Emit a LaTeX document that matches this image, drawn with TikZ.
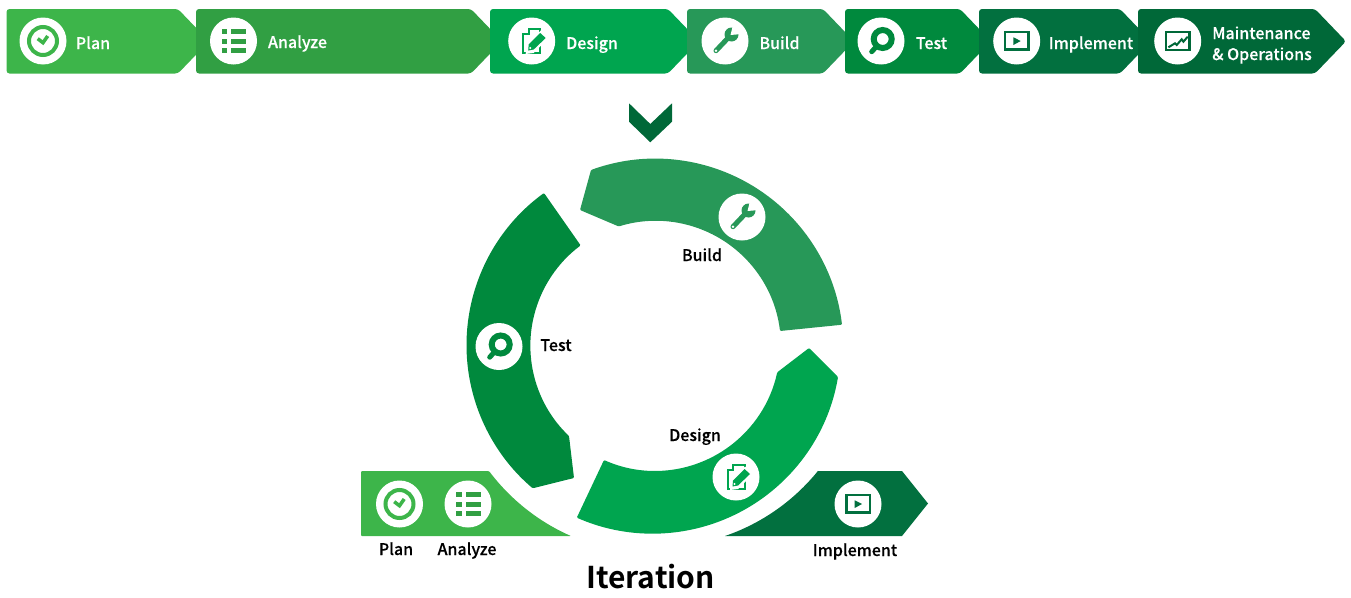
\documentclass[tikz,border=0pt]{standalone}
\usepackage{fontspec}
\setmainfont{Noto Sans CJK KR Medium}[FakeBold=0.25]
\newfontfamily\titlefont{Noto Sans CJK KR Bold}
\definecolor{planc}{HTML}{3DB54A}
\definecolor{analyzec}{HTML}{319F43}
\definecolor{designc}{HTML}{00A54F}
\definecolor{buildc}{HTML}{279858}
\definecolor{testc}{HTML}{00893D}
\definecolor{implc}{HTML}{02703F}
\definecolor{maintc}{HTML}{006838}
\tikzset{
  iconbg/.style={circle, fill=white, inner sep=0pt, minimum size=47pt},
  headlabel/.style={text=white, anchor=base, font=\fontsize{16}{21}\selectfont, align=left},
  ringlabel/.style={text=black, anchor=base, font=\fontsize{16}{21}\selectfont},
  pics/planicon/.style={code={
    \draw[#1, line width=4pt] (0,0) circle[radius=14];
    \draw[#1, line width=3.5pt] (-5.3,-2.3)--(0,1.7)--(4.7,-5);
  }},
  pics/analyzeicon/.style={code={
    \foreach \rowy in {-12,-2.5,7}{
      \fill[#1] (-12,\rowy) rectangle (-6.5,\rowy+5);
      \fill[#1] (-2.5,\rowy) rectangle (12.5,\rowy+5);
    }
  }},
  pics/designicon/.style={code={
    \draw[#1, line width=2pt] (-8.3,-7)--(-2.7,-7)--(-2.7,-12.3)--(8.7,-12.3)--(8.7,11.7)--(-8.3,11.7)--cycle;
    \fill[white] (9,-10.5)--(17,-3)--(2,12)--(-6,13)--(-5.5,5)--cycle;
    \fill[#1] (8.5,-8)--(14,-3)--(2,8.5)--(-3.5,9.5)--(-3,3.5)--cycle;
    \fill[white] (-1.5,7)circle[radius=1.1];
  }},
  pics/buildicon/.style={code={
    \draw[#1, line width=5pt, line cap=round] (-9,9.7)--(4,-4);
    \fill[#1] (6.5,-6.5) circle[radius=7];
    \fill[white] (5.5,-6)--(8,-16)--(17,-7)--cycle;
    \fill[white] (-9,9.7) circle[radius=1.4];
  }},
  pics/testicon/.style={code={
    \draw[#1, line width=6pt] (1.7,-2) circle[radius=9];
    \draw[#1, line width=5pt, line cap=round] (-9.3,10.7)--(-5,6);
  }},
  pics/implicon/.style={code={
    \draw[#1, line width=2.5pt] (-11.5,-8.8) rectangle (12,8.5);
    \fill[#1] (-3.3,-3.7)--(4,0)--(-3.3,4)--cycle;
  }},
  pics/mainticon/.style={code={
    \draw[#1, line width=2.5pt] (-11.5,-8.8) rectangle (12,9);
    \draw[#1, line width=2pt] (-9.3,6.3)--(-2.7,2.3)--(-1,4)--(4,-1.7)--(5.7,0.7)--(10,-4.3);
  }}
}
% top bar: left, shoulder, colour
\newcommand{\stagebar}[3]{
  \fill[#3, rounded corners=3pt] (#2,9)--(#2+31,41.3)--(#2,73.5)--(#1,73.5)--(#1,9)--cycle;
}
\begin{document}
\begin{tikzpicture}[x=1pt, y=-1pt]
  \useasboundingbox (0,0) rectangle (1351,597);
  \stagebar{6.5}{178}{planc}
  \stagebar{196}{471}{analyzec}
  \stagebar{490}{668}{designc}
  \stagebar{687}{823}{buildc}
  \stagebar{845}{960}{testc}
  \stagebar{979}{1120}{implc}
  \stagebar{1138}{1315}{maintc}

  \node[iconbg] (plantop) at (43,41) {};
  \pic at (plantop) {planicon=planc};
  \node[headlabel] (planhead) at (93,49) {Plan};
  \node[iconbg] (analyzetop) at (233.5,41) {};
  \pic at (analyzetop) {analyzeicon=analyzec};
  \node[headlabel] (analyzehead) at (297.5,48) {Analyze};
  \node[iconbg] (designtop) at (531.7,41) {};
  \pic at (designtop) {designicon=designc};
  \node[headlabel] (designhead) at (592,49) {Design};
  \node[iconbg] (buildtop) at (725,41) {};
  \pic at (buildtop) {buildicon=buildc};
  \node[headlabel] (buildhead) at (779.5,49) {Build};
  \node[iconbg] (testtop) at (881,41) {};
  \pic at (testtop) {testicon=testc};
  \node[headlabel] (testhead) at (931.5,49) {Test};
  \node[iconbg] (impltop) at (1016.7,41) {};
  \pic at (impltop) {implicon=implc};
  \node[headlabel] (implhead) at (1091,49) {Implement};
  \node[iconbg] (mainttop) at (1177.7,41) {};
  \pic at (mainttop) {mainticon=maintc};
  \node[headlabel, anchor=center] (mainthead) at (1262,45) {Maintenance\\\& Operations};

  % chevron
  \fill[maintc] (629,103.3)--(650.3,124)--(672,103.3)--(672,121.7)--(650.3,142.3)--(629,121.7)--cycle;

  % ring
  \fill[buildc, rounded corners=1pt] (591,170) arc[start angle=250, end angle=353.3, radius=188]
    --(780,331) arc[start angle=353.2, end angle=252.7, radius=125]--(580,210)--cycle;
  \fill[testc, rounded corners=1pt] (544,193) arc[start angle=234, end angle=130.4, radius=188]
    --(574,478)--(569,436) arc[start angle=133.7, end angle=233.3, radius=125]--cycle;
  \fill[designc, rounded corners=1pt] (838,377) arc[start angle=9.6, end angle=113.8, radius=188]
    --(604,460) arc[start angle=114.1, end angle=12.2, radius=125]--(809,348)--cycle;

  \node[iconbg] (buildring) at (742,217) {};
  \pic at (buildring) {buildicon=buildc};
  \node[ringlabel] (buildname) at (702,261) {Build};
  \node[iconbg] (testring) at (499,346.5) {};
  \pic at (testring) {testicon=testc};
  \node[ringlabel] (testname) at (556,351) {Test};
  \node[iconbg] (designring) at (736,477) {};
  \pic at (designring) {designicon=designc};
  \node[ringlabel] (designname) at (695,441) {Design};

  % bottom shapes
  \fill[planc, rounded corners=1pt] (361,471)--(489,471) arc[start angle=143, end angle=113.8, radius=208]--(361,536)--cycle;
  \fill[implc] (818,471)--(902,471)--(928,503.5)--(902,536)--(725,536) arc[start angle=71.07, end angle=38.93, radius=205]--cycle;
  \node[iconbg] (planlow) at (399.5,504) {};
  \pic at (planlow) {planicon=planc};
  \node[iconbg] (analyzelow) at (468,504) {};
  \pic at (analyzelow) {analyzeicon=analyzec};
  \node[iconbg] (impllow) at (858,504) {};
  \pic at (impllow) {implicon=implc};
  \node[ringlabel] (planname) at (396,555) {Plan};
  \node[ringlabel] (analyzename) at (467,555) {Analyze};
  \node[ringlabel] (implname) at (855,556) {Implement};
  \node[text=black, anchor=base, font=\fontsize{30}{36}\titlefont] (iterationname) at (650.5,588) {Iteration};
\end{tikzpicture}
\end{document}
